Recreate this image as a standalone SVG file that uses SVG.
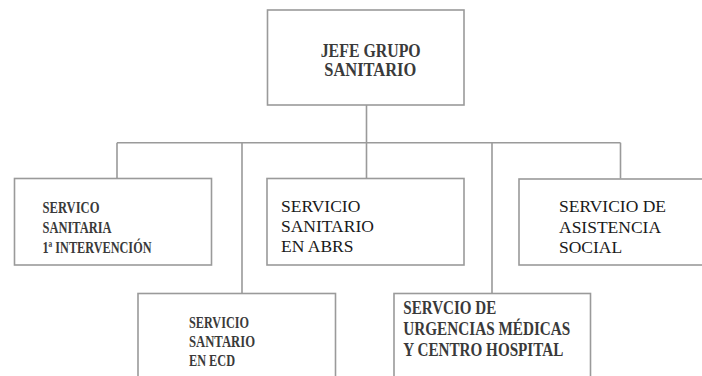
<svg xmlns="http://www.w3.org/2000/svg" width="702" height="376" viewBox="0 0 702 376">
<style>
.box{fill:#ffffff;stroke:#9a9a9a;stroke-width:1.6}
.ln{fill:none;stroke:#9a9a9a;stroke-width:1.6}
.b{font-family:"Liberation Serif","Times New Roman",serif;font-weight:bold;fill:#3a3a3a}
.r{font-family:"Liberation Serif","Times New Roman",serif;font-weight:normal;fill:#1a1a1a;font-size:17.5px}
</style>
<rect width="702" height="376" fill="#ffffff"/>
<g id="connectors">
<path class="ln" d="M366.5 105V142.7M117 142.7H620.5M117 142.7V178.5M242 142.7V293.5M366.5 142.7V178.5M492 142.7V293.5M620.5 142.7V178.5"/>
</g>
<g id="jefe">
<rect class="box" x="267.5" y="10" width="196.5" height="95"/>
<text class="b" font-size="18.5" x="320.7" y="57.3" textLength="100" lengthAdjust="spacingAndGlyphs">JEFE GRUPO</text>
<text class="b" font-size="18.5" x="324.3" y="76" textLength="92" lengthAdjust="spacingAndGlyphs">SANITARIO</text>
</g>
<g id="primera">
<rect class="box" x="14.5" y="178.5" width="197" height="86.5"/>
<text class="b" font-size="16.5" x="42.5" y="212.7" textLength="57" lengthAdjust="spacingAndGlyphs">SERVICO</text>
<text class="b" font-size="16.5" x="42.5" y="232.7" textLength="69" lengthAdjust="spacingAndGlyphs">SANITARIA</text>
<text class="b" font-size="16.5" x="42.5" y="253.3" textLength="109" lengthAdjust="spacingAndGlyphs">1ª INTERVENCIÓN</text>
</g>
<g id="abrs">
<rect class="box" x="267" y="178.5" width="197" height="86.5"/>
<text class="r" x="281" y="211.7">SERVICIO</text>
<text class="r" x="281" y="231.7">SANITARIO</text>
<text class="r" x="281" y="251.7">EN ABRS</text>
</g>
<g id="social">
<rect class="box" x="519" y="179" width="200" height="86"/>
<text class="r" x="559" y="211.7">SERVICIO DE</text>
<text class="r" x="559" y="232.7">ASISTENCIA</text>
<text class="r" x="559" y="252.7">SOCIAL</text>
</g>
<g id="ecd">
<rect class="box" x="138" y="293.5" width="197.5" height="100"/>
<text class="b" font-size="17.5" x="189" y="328.3" textLength="60" lengthAdjust="spacingAndGlyphs">SERVICIO</text>
<text class="b" font-size="17.5" x="189" y="346.7" textLength="66" lengthAdjust="spacingAndGlyphs">SANTARIO</text>
<text class="b" font-size="17.5" x="189" y="365.7" textLength="46" lengthAdjust="spacingAndGlyphs">EN ECD</text>
</g>
<g id="urgencias">
<rect class="box" x="394" y="293.5" width="196.5" height="100"/>
<text class="b" font-size="18.5" x="403.3" y="314" textLength="93" lengthAdjust="spacingAndGlyphs">SERVCIO DE</text>
<text class="b" font-size="18.5" x="403.3" y="335" textLength="167" lengthAdjust="spacingAndGlyphs">URGENCIAS MÉDICAS</text>
<text class="b" font-size="18.5" x="403.3" y="355.7" textLength="160" lengthAdjust="spacingAndGlyphs">Y CENTRO HOSPITAL</text>
</g>
</svg>
